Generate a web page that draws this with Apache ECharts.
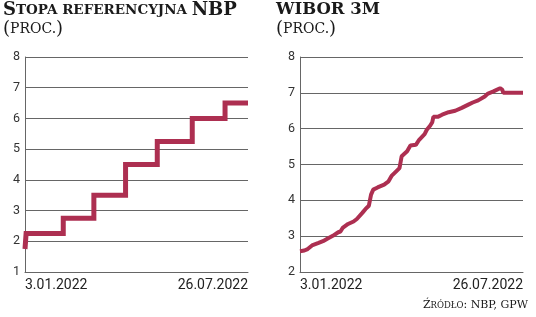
<!DOCTYPE html>
<html><head><meta charset="utf-8">
<script src="https://cdn.jsdelivr.net/npm/echarts@6/dist/echarts.min.js"></script>
<style>html,body{margin:0;padding:0;background:#fff}#c{width:536px;height:317px}</style>
</head><body><div id="c"></div>
<script>
// ---- data ----
const startDate = '2022-01-03';
const endDate = '2022-07-26';
const xTickLabels = ['3.01.2022', '26.07.2022'];

const nbpDates = ['2022-01-03','2022-01-04','2022-02-07','2022-03-07','2022-04-05','2022-05-04','2022-06-05','2022-07-05','2022-07-26'];
const nbpValues = [1.75, 2.25, 2.75, 3.5, 4.5, 5.25, 6.0, 6.5, 6.5];

const wiborDates = ['2022-01-03','2022-01-07','2022-01-10','2022-01-14','2022-01-20','2022-01-24','2022-01-28',
  '2022-02-02','2022-02-07','2022-02-09','2022-02-11','2022-02-16','2022-02-21','2022-02-24',
  '2022-03-01','2022-03-04','2022-03-07','2022-03-09','2022-03-11','2022-03-15','2022-03-21','2022-03-25','2022-03-28',
  '2022-04-01','2022-04-04','2022-04-05','2022-04-06','2022-04-11','2022-04-14','2022-04-19','2022-04-22','2022-04-27','2022-04-29',
  '2022-05-02','2022-05-04','2022-05-05','2022-05-09','2022-05-13','2022-05-19','2022-05-25','2022-05-31',
  '2022-06-06','2022-06-10','2022-06-15','2022-06-21','2022-06-24','2022-06-29',
  '2022-07-05','2022-07-07','2022-07-08','2022-07-14','2022-07-26'];
const wiborValues = [2.58,2.60,2.64,2.74,2.81,2.86,2.93,
  3.01,3.11,3.13,3.23,3.34,3.41,3.48,
  3.65,3.76,3.85,4.16,4.30,4.36,4.44,4.53,4.69,
  4.81,4.90,4.92,5.23,5.37,5.53,5.55,5.69,5.85,5.97,
  6.08,6.18,6.33,6.33,6.39,6.46,6.50,6.58,
  6.67,6.73,6.79,6.90,6.98,7.04,
  7.13,7.09,7.00,7.00,7.00];

const leftTitle = ['S', 'topa referencyjna', 'NBP'];
const rightTitle = 'WIBOR 3M';
const unitText = ['(', 'proc.', ')'];
const sourceText = ['Ź', 'ródło', ': NBP, GPW'];

// ---- helpers ----
function dayOffset(s) {
  return (Date.parse(s + 'T00:00:00Z') - Date.parse(startDate + 'T00:00:00Z')) / 86400000;
}
const xMax = dayOffset(endDate);
const pairs = (d, v) => d.map((s, i) => [dayOffset(s), v[i]]);

const lineColor = '#ad2f51';
const gridColor = '#666';
const serif = '"DejaVu Serif", "Liberation Serif", serif';

function xAxis(gridIndex) {
  return {
    type: 'value', gridIndex, min: 0, max: xMax,
    axisLine: { show: true, onZero: false, lineStyle: { color: gridColor, width: 1 } },
    axisTick: { show: false },
    splitLine: { show: false },
    axisLabel: {
      customValues: [0, xMax],
      formatter: v => (v === 0 ? xTickLabels[0] : xTickLabels[1]),
      alignMinLabel: 'left', alignMaxLabel: 'right',
      fontFamily: 'Roboto', fontSize: 14, color: '#222', margin: 6
    }
  };
}
function yAxis(gridIndex, min) {
  return {
    type: 'value', gridIndex, min, max: 8, interval: 1,
    axisLine: { show: true, lineStyle: { color: gridColor, width: 1 } },
    axisTick: { show: false },
    splitLine: { show: true, lineStyle: { color: gridColor, width: 1 } },
    axisLabel: { fontFamily: 'Roboto', fontSize: 12.5, color: '#333', margin: 5 }
  };
}

const ink = '#1a1a1a';
const richCaps = {
  big: { fontFamily: serif, fontWeight: 'bold', fontSize: 18, color: ink },
  big2: { fontFamily: serif, fontWeight: 'bold', fontSize: 16.5, color: ink },
  sm: { fontFamily: serif, fontWeight: 'bold', fontSize: 13.5, color: ink },
  pbig: { fontFamily: serif, fontWeight: 'normal', fontSize: 18, color: ink },
  psm: { fontFamily: serif, fontWeight: 'normal', fontSize: 14, color: ink },
  sbig: { fontFamily: serif, fontWeight: 'normal', fontSize: 11, color: ink },
  ssm: { fontFamily: serif, fontWeight: 'normal', fontSize: 8.5, color: ink }
};
const ts = { fontWeight: 'normal', fontFamily: serif, rich: richCaps };

const chart = echarts.init(document.getElementById('c'), null, { renderer: 'canvas' });
chart.setOption({
  animation: false,
  backgroundColor: '#fff',
  title: [
    { left: 3, top: 1, padding: 0, text: '{big|' + leftTitle[0] + '}{sm|' + leftTitle[1].toUpperCase() + ' }{big|' + leftTitle[2] + '}', textStyle: ts },
    { left: 3, top: 20, padding: 0, text: '{pbig|' + unitText[0] + '}{psm|' + unitText[1].toUpperCase() + '}{pbig|' + unitText[2] + '}', textStyle: ts },
    { left: 276, top: 1, padding: 0, text: '{big2|' + rightTitle + '}', textStyle: ts },
    { left: 276, top: 20, padding: 0, text: '{pbig|' + unitText[0] + '}{psm|' + unitText[1].toUpperCase() + '}{pbig|' + unitText[2] + '}', textStyle: ts },
    { right: 8, top: 300, padding: 0, text: '{sbig|' + sourceText[0] + '}{ssm|' + sourceText[1].toUpperCase() + '}{sbig|' + sourceText[2] + '}', textStyle: ts }
  ],
  grid: [
    { left: 25, right: 288, top: 57, bottom: 45 },
    { left: 300, right: 13, top: 57, bottom: 45 }
  ],
  xAxis: [xAxis(0), xAxis(1)],
  yAxis: [yAxis(0, 1), yAxis(1, 2)],
  series: [
    { type: 'line', xAxisIndex: 0, yAxisIndex: 0, step: 'end', data: pairs(nbpDates, nbpValues),
      showSymbol: false, lineStyle: { color: lineColor, width: 5, join: 'miter' } },
    { type: 'line', xAxisIndex: 1, yAxisIndex: 1, data: pairs(wiborDates, wiborValues),
      showSymbol: false, lineStyle: { color: lineColor, width: 4 } }
  ]
});
</script></body></html>
